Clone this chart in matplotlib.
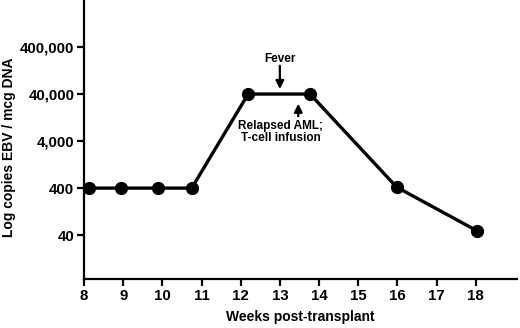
import matplotlib
matplotlib.use("Agg")
import matplotlib.pyplot as plt
from matplotlib.ticker import FixedLocator, FixedFormatter, NullLocator

plt.rcParams['font.family'] = ['Liberation Sans', 'DejaVu Sans']
plt.rcParams['font.weight'] = 'bold'

weeks = [8.13, 8.94, 9.9, 10.75, 12.19, 13.77, 15.98, 18.02]
copies = [400, 400, 400, 400, 40000, 40000, 420, 50]
x_ticks = [8, 9, 10, 11, 12, 13, 14, 15, 16, 17, 18]
y_ticks = [40, 400, 4000, 40000, 400000]
y_labels = ["40", "400", "4,000", "40,000", "400,000"]

fig = plt.figure(figsize=(5.2, 3.28), dpi=100)
ax = fig.add_axes([0.1615, 0.1485, 0.8325, 0.8515])

ax.plot(weeks, copies, color='black', lw=2.4, marker='o', ms=8.5, zorder=3, clip_on=False)
ax.set_yscale('log')
ax.set_ylim(4.6, 4.0e6)
ax.set_xlim(8, 19.05)

ax.yaxis.set_major_locator(FixedLocator(y_ticks))
ax.yaxis.set_major_formatter(FixedFormatter(y_labels))
ax.yaxis.set_minor_locator(NullLocator())
ax.set_xticks(x_ticks)
ax.set_xticklabels([str(t) for t in x_ticks])

for s in ['top', 'right']:
    ax.spines[s].set_visible(False)
for s in ['left', 'bottom']:
    ax.spines[s].set_linewidth(1.6)

ax.tick_params(axis='both', which='major', length=5, width=1.6, labelsize=10.8, pad=2)
for lab in ax.get_xticklabels() + ax.get_yticklabels():
    lab.set_fontweight('bold')

ax.set_xlabel("Weeks post-transplant", fontsize=10, fontweight='bold', labelpad=5)
ax.set_ylabel("Log copies EBV / mcg DNA", fontsize=10, fontweight='bold')
ax.yaxis.set_label_coords(-0.158, 0.474)

arrow_style = dict(arrowstyle='-|>', color='black', lw=1.6, mutation_scale=12,
                   shrinkA=0, shrinkB=0)
ax.annotate("", xy=(13.0, 51000), xytext=(13.0, 160000), arrowprops=arrow_style)
ax.text(13.0, 195000, "Fever", ha='center', va='baseline', fontsize=8.5, fontweight='bold')
ax.annotate("", xy=(13.47, 25000), xytext=(13.47, 13500), arrowprops=arrow_style)
ax.text(13.02, 11000, "Relapsed AML;\nT-cell infusion", ha='center', va='top',
        fontsize=8.5, fontweight='bold', linespacing=1.0)

fig.savefig("out.png", dpi=100)
